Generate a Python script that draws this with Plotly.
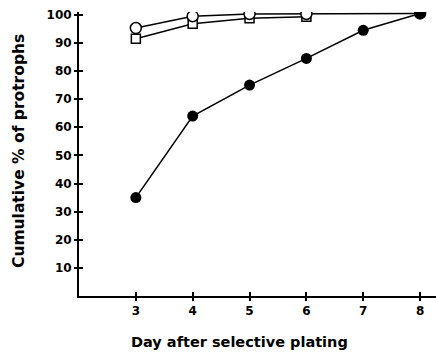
import plotly.graph_objects as go

days_filled = [3, 4, 5, 6, 7, 8]
filled_vals = [35, 64, 75, 84.5, 94.5, 100.5]
days_circle = [3, 4, 5, 6, 8]
circle_vals = [95.3, 99.5, 100.3, 100.3, 100.5]
days_square = [3, 4, 5, 6]
square_vals = [91.5, 96.8, 98.8, 99.3]
x_ticks = [3, 4, 5, 6, 7, 8]
y_ticks = [10, 20, 30, 40, 50, 60, 70, 80, 90, 100]

font = "DejaVu Sans, Arial, sans-serif"
W, H = 436, 352
L, R, T, B = 79, 0, 12, 56
pw, ph = W - L - R, H - T - B


def px_to_paper(px, py):
    return (px - L) / pw, (H - B - py) / ph


fig = go.Figure()
fig.add_trace(go.Scatter(x=days_square, y=square_vals, mode="lines+markers",
                         line=dict(color="black", width=1.5),
                         marker=dict(symbol="square", size=9, color="white",
                                     line=dict(color="black", width=1.5))))
fig.add_trace(go.Scatter(x=days_circle, y=circle_vals, mode="lines+markers",
                         line=dict(color="black", width=1.5),
                         marker=dict(symbol="circle", size=11, color="white",
                                     line=dict(color="black", width=1.5))))
fig.add_trace(go.Scatter(x=days_filled, y=filled_vals, mode="lines+markers",
                         line=dict(color="black", width=1.5),
                         marker=dict(symbol="circle", size=11, color="black")))
# invisible trace for crossing ticks
fig.add_trace(go.Scatter(x=[3], y=[50], xaxis="x2", yaxis="y2", mode="markers",
                         marker=dict(opacity=0), hoverinfo="skip"))

xt_x, xt_y = px_to_paper(239, 342)
yt_x, yt_y = px_to_paper(19, 151)

fig.update_layout(
    width=W, height=H,
    margin=dict(l=L, r=R, t=T, b=B),
    plot_bgcolor="white", paper_bgcolor="white",
    showlegend=False,
    font=dict(family=font, color="black"),
    xaxis=dict(range=[2, 8.28], tickvals=x_ticks,
               ticktext=[f"<b>{v}</b>" for v in x_ticks],
               showline=True, linecolor="black", linewidth=2,
               ticks="outside", ticklen=3, tickwidth=1.5, tickcolor="black",
               showgrid=False, zeroline=False, tickfont=dict(size=12)),
    yaxis=dict(range=[0, 101], tickvals=y_ticks,
               ticktext=[f"<b>{v}</b>" for v in y_ticks],
               showline=True, linecolor="black", linewidth=2,
               ticks="outside", ticklen=3, tickwidth=1.5, tickcolor="black",
               showgrid=False, zeroline=False, tickfont=dict(size=12)),
    xaxis2=dict(range=[2, 8.28], tickvals=x_ticks, overlaying="x", anchor="y",
                side="bottom", ticks="inside", ticklen=4, tickwidth=1.5,
                tickcolor="black", showticklabels=False, showgrid=False,
                zeroline=False, showline=False),
    yaxis2=dict(range=[0, 101], tickvals=y_ticks, overlaying="y", anchor="x",
                side="left", ticks="inside", ticklen=4, tickwidth=1.5,
                tickcolor="black", showticklabels=False, showgrid=False,
                zeroline=False, showline=False),
    annotations=[
        dict(text="<b>Day after selective plating</b>", xref="paper", yref="paper",
             x=xt_x, y=xt_y, xanchor="center", yanchor="middle", showarrow=False,
             font=dict(size=14.5)),
        dict(text="<b>Cumulative % of protrophs</b>", xref="paper", yref="paper",
             x=yt_x, y=yt_y, xanchor="center", yanchor="middle", showarrow=False,
             textangle=-90, font=dict(size=15.5)),
    ],
)
fig.write_html("out.html", config={"displayModeBar": False},
               post_script="document.body.style.margin='0';document.body.style.padding='0';")
